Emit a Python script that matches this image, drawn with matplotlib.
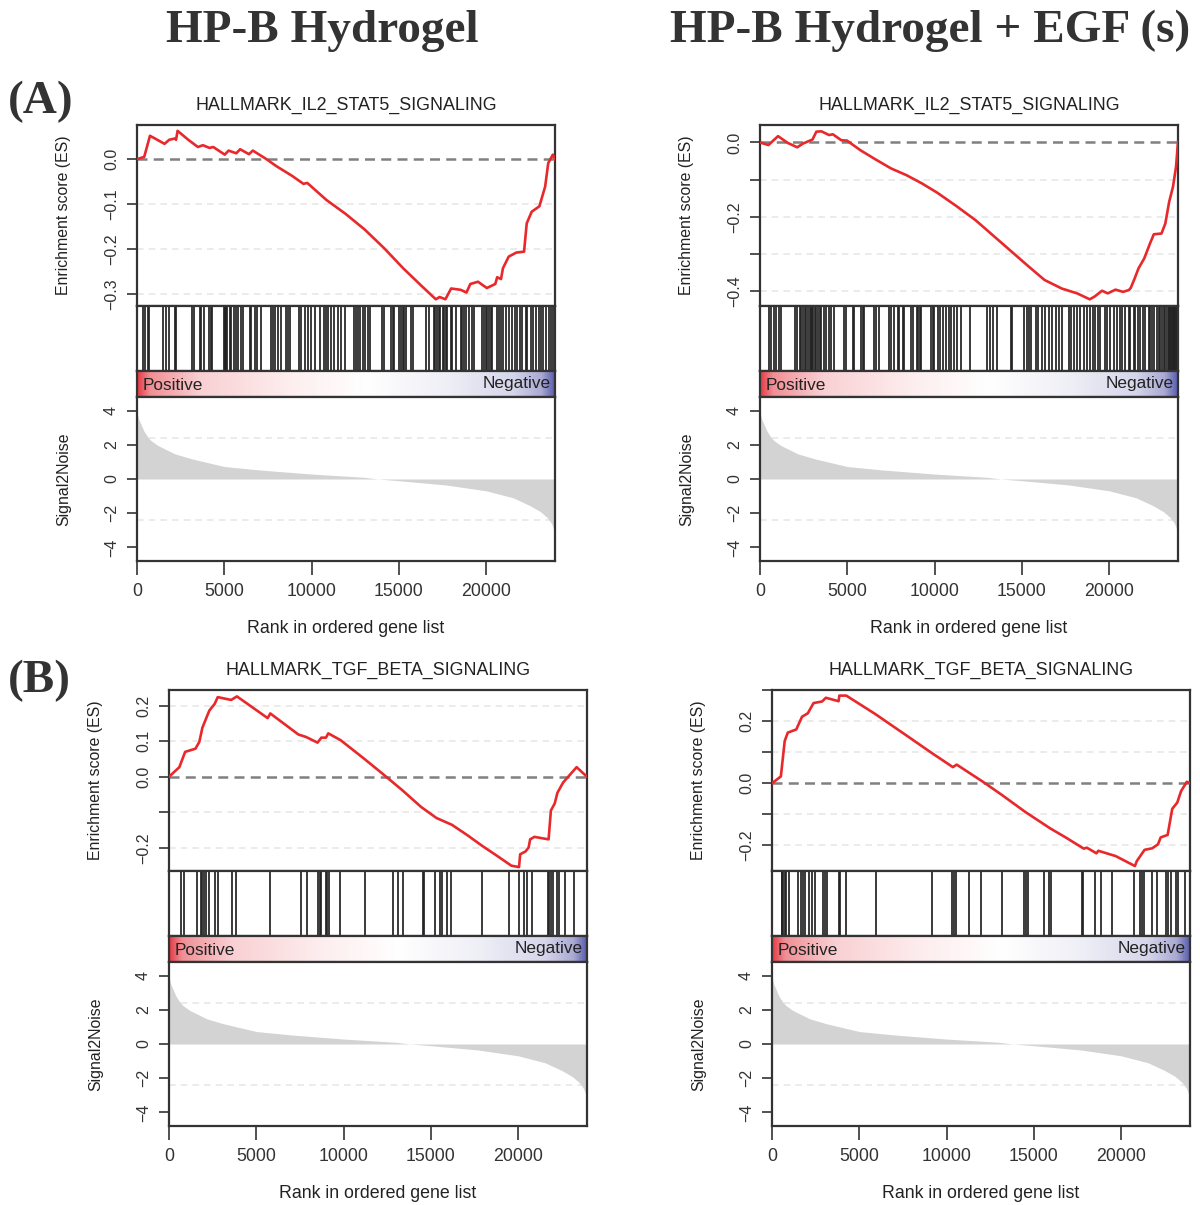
import numpy as np
import matplotlib.pyplot as plt
from matplotlib.colors import LinearSegmentedColormap

plt.rcParams['font.family'] = ['Liberation Sans', 'DejaVu Sans']

W, H = 1200, 1205
N_GENES = 23950

# ranked list metric (Signal2Noise)
S2N_RANK = [0, 50, 100, 230, 400, 620, 800, 1200, 2170, 3140, 5000, 7000, 10000,
            13000, 13800, 15000, 17700, 20000, 21550, 22500, 23100, 23500, 23750, 23880, 23950]
S2N_VALUE = [3.95, 3.7, 3.5, 3.2, 2.8, 2.45, 2.25, 1.96, 1.47, 1.18, 0.73, 0.53, 0.29,
             0.1, 0.0, -0.1, -0.35, -0.69, -1.1, -1.55, -1.9, -2.25, -2.6, -2.95, -3.25]

# (A) left: IL2_STAT5, HP-B Hydrogel
A1_ES_X = [0, 413, 743, 1072, 1578, 1842, 2172, 2237, 2325, 2940, 3490, 3776, 4150, 4370,
           5029, 5249, 5689, 5909, 6415, 6635, 7338, 7998, 8877, 9537, 9757, 10856, 11955,
           13054, 14153, 15252, 16351, 17120, 17340, 17670, 17999, 18549, 18879, 19098,
           19538, 20044, 20527, 20637, 20857, 20967, 21297, 21737, 22177, 22330, 22616,
           23056, 23386, 23562, 23826, 23950]
A1_ES_Y = [0, 0.005, 0.052, 0.045, 0.034, 0.043, 0.046, 0.043, 0.063, 0.043, 0.027, 0.031,
           0.025, 0.027, 0.010, 0.019, 0.013, 0.022, 0.011, 0.019, 0.002, -0.016, -0.037,
           -0.055, -0.053, -0.091, -0.122, -0.157, -0.198, -0.243, -0.284, -0.312, -0.307,
           -0.312, -0.288, -0.291, -0.297, -0.278, -0.273, -0.287, -0.278, -0.263, -0.267,
           -0.243, -0.217, -0.208, -0.206, -0.143, -0.117, -0.105, -0.061, -0.009, 0.010, 0.0]
A1_HITS = [362, 457, 610, 686, 1505, 1638, 1829, 2171, 2248, 3162, 3276, 3600, 3695, 3829,
           4114, 4229, 4305, 4990, 5030, 5067, 5105, 5143, 5314, 5410, 5543, 5695, 5790,
           5943, 6076, 6457, 6552, 6781, 6895, 7124, 7695, 7790, 7886, 8076, 8267, 8552,
           8648, 8743, 9257, 9371, 9600, 9790, 9943, 10171, 10457, 10743, 10838, 10933,
           11124, 11276, 11505, 11695, 11943, 12419, 12552, 12648, 12800, 12933, 13067,
           13219, 13371, 14019, 14133, 14552, 14648, 14743, 15029, 15124, 15219, 15314,
           15410, 15695, 15790, 16552, 16743, 16990, 17067, 17181, 17276, 17371, 17505,
           17600, 17695, 17790, 17981, 18076, 18267, 18552, 18648, 18743, 18838, 19029,
           19219, 19314, 19790, 19886, 19981, 20076, 20171, 20267, 20362, 20648, 20743,
           20838, 20990, 21124, 21314, 21505, 21638, 21790, 21943, 22076, 22267, 22362,
           22552, 22705, 22838, 23029, 23124, 23276, 23410, 23600, 23695, 23850]

# (A) right: IL2_STAT5, HP-B Hydrogel + EGF (s)
A2_ES_X = [0, 483, 1033, 1582, 2131, 2461, 3010, 3230, 3515, 3955, 4174, 4658, 4987, 5756,
           6635, 7514, 8393, 9271, 10150, 11249, 12347, 13446, 14545, 15424, 16303, 17291,
           18170, 18895, 19159, 19598, 19928, 20368, 20807, 21137, 21246, 21466, 21685,
           22015, 22344, 22564, 23004, 23224, 23443, 23663, 23839, 23950]
A2_ES_Y = [0, -0.007, 0.017, -0.001, -0.013, -0.003, 0.008, 0.029, 0.030, 0.020, 0.022,
           0.006, 0.005, -0.021, -0.046, -0.070, -0.088, -0.110, -0.135, -0.171, -0.209,
           -0.254, -0.299, -0.335, -0.370, -0.393, -0.406, -0.422, -0.415, -0.399, -0.406,
           -0.396, -0.402, -0.397, -0.391, -0.366, -0.339, -0.312, -0.272, -0.247, -0.245,
           -0.218, -0.160, -0.119, -0.065, 0.002]
A2_HITS = [495, 648, 800, 933, 1067, 1181, 2019, 2133, 2267, 2362, 2457, 2552, 2648, 2743,
           2838, 2933, 2990, 3048, 3124, 3219, 3314, 3410, 3505, 3695, 3790, 3981, 4076,
           4229, 4800, 4933, 5314, 5410, 5790, 5886, 5981, 6552, 6648, 6838, 7410, 7505,
           7695, 7886, 7981, 8171, 8267, 8648, 8743, 8990, 9067, 9162, 9219, 9790, 9886,
           9981, 10171, 10324, 10457, 10648, 10838, 10933, 11124, 11276, 11505, 12019,
           13029, 13181, 13371, 13600, 14362, 14457, 15124, 15276, 15410, 15505, 15790,
           15924, 16171, 16305, 16552, 16743, 16933, 17124, 17314, 17695, 17828, 17981,
           18171, 18362, 18552, 18743, 18933, 19086, 19219, 19352, 19505, 19790, 19886,
           20076, 20267, 20457, 20610, 20743, 20933, 21124, 21219, 21410, 21505, 21638,
           21790, 21943, 22076, 22267, 22362, 22457, 22590, 22743, 22838, 22933, 23029,
           23124, 23219, 23314, 23410, 23460, 23505, 23550, 23600, 23650, 23695, 23745,
           23790, 23840, 23890]

# (B) left: TGF_BETA, HP-B Hydrogel
B1_ES_X = [0, 594, 924, 1517, 1737, 1913, 2309, 2617, 2793, 3562, 3892, 5651, 5805, 7410,
           7850, 8510, 8730, 8994, 9126, 9830, 11149, 12249, 13348, 14448, 15327, 16207,
           17086, 17966, 18846, 19615, 20055, 20121, 20429, 20605, 20693, 20935, 21749,
           21881, 22101, 22255, 22585, 23355, 23950]
B1_ES_Y = [0, 0.027, 0.070, 0.079, 0.098, 0.138, 0.186, 0.205, 0.224, 0.216, 0.226, 0.165,
           0.178, 0.119, 0.112, 0.096, 0.110, 0.110, 0.122, 0.103, 0.052, 0.008, -0.037,
           -0.085, -0.116, -0.135, -0.164, -0.195, -0.224, -0.250, -0.254, -0.218, -0.210,
           -0.199, -0.176, -0.169, -0.176, -0.095, -0.075, -0.045, -0.016, 0.027, 0.0]
B1_HITS = [686, 876, 1600, 1829, 1886, 1981, 2114, 2305, 2648, 2781, 3600, 3867, 5771,
           7543, 7924, 8552, 8629, 8686, 8971, 9067, 9162, 9771, 11219, 12838, 13105,
           13390, 14533, 14590, 15257, 15543, 15638, 15924, 16171, 17924, 19486, 20057,
           20362, 20495, 20781, 21695, 21771, 21886, 22019, 22210, 22343, 22686, 23219]

# (B) right: TGF_BETA, HP-B Hydrogel + EGF (s)
B2_ES_X = [0, 507, 728, 904, 1389, 1720, 2051, 2381, 2867, 3087, 3815, 3859, 4256, 5909,
           7673, 9217, 10364, 10584, 12083, 13186, 14509, 15942, 16824, 17860, 18037,
           18588, 18699, 19691, 20793, 20904, 21345, 21786, 22117, 22271, 22668, 22933,
           23220, 23440, 23771, 23950]
B2_ES_Y = [0, 0.022, 0.136, 0.163, 0.173, 0.214, 0.225, 0.258, 0.263, 0.275, 0.264, 0.282,
           0.282, 0.223, 0.155, 0.095, 0.052, 0.060, 0.005, -0.038, -0.092, -0.145, -0.174,
           -0.210, -0.207, -0.225, -0.217, -0.234, -0.266, -0.250, -0.214, -0.209, -0.196,
           -0.174, -0.166, -0.082, -0.062, -0.025, 0.005, 0.0]
B2_HITS = [552, 600, 648, 743, 800, 990, 1505, 1638, 1752, 1886, 2133, 2267, 2457, 2933,
           3029, 3162, 3848, 3924, 4267, 5943, 9181, 10324, 10400, 10514, 11276, 11981,
           13181, 14457, 14552, 14648, 15600, 15848, 15981, 17790, 17828, 18514, 18838,
           19505, 20743, 21067, 21181, 21314, 21752, 22076, 22590, 22705, 22838, 23162,
           23276, 23657]

X_TICKS = [0, 5000, 10000, 15000, 20000]
S2N_TICKS = [4, 2, 0, -2, -4]

EDGE = '#333333'
LINE_RED = '#e8282b'

bar_cmap = LinearSegmentedColormap.from_list('posneg', [
    (0.0, '#e53e48'), (0.03, '#f08f95'), (0.15, '#f9d0d3'), (0.35, '#fdeced'),
    (0.55, '#ffffff'), (0.75, '#eeeef6'), (0.9, '#d6d6eb'), (0.97, '#a9a9d3'),
    (1.0, '#5b5fae')])


def px_axes(fig, x0, x1, y0, y1):
    return fig.add_axes([x0 / W, 1 - y1 / H, (x1 - x0) / W, (y1 - y0) / H])


def style_box(ax):
    for s in ax.spines.values():
        s.set_color(EDGE)
        s.set_linewidth(1.6)
    ax.tick_params(colors=EDGE, width=1.2, length=7, direction='out')


def gsea_panel(fig, x0, x1, ytop, title, es_x, es_y, hits, ylim, yticks, ylabels):
    y_es, y_bar, y_cb, y_s2n = ytop + 181, ytop + 246, ytop + 272, ytop + 436
    width = x1 - x0

    # running enrichment score
    ax = px_axes(fig, x0, x1, ytop, y_es)
    style_box(ax)
    for t in yticks:
        if t != 0:
            ax.axhline(t, color='#e8e8e8', lw=1.2, ls=(0, (4, 3)), zorder=1)
    ax.axhline(0, color='#808080', lw=1.8, ls=(0, (4, 2.5)), zorder=2)
    ax.plot(es_x, es_y, color=LINE_RED, lw=1.9, zorder=3)
    ax.set_xlim(0, N_GENES)
    ax.set_ylim(*ylim)
    ax.set_xticks([])
    ax.set_yticks(yticks)
    ax.set_yticklabels(ylabels, rotation=90, va='center', fontsize=11.5)
    ax.tick_params(axis='y', pad=6)
    ax.set_ylabel('Enrichment score (ES)', fontsize=11.4, color='#222222')
    ax.yaxis.set_label_coords(-66 / width, 0.5)
    ax.set_title(title, fontsize=12.9, color='#222222', pad=11)

    # gene set hits
    axb = px_axes(fig, x0, x1, y_es, y_bar)
    style_box(axb)
    axb.vlines(hits, 0, 1, color='#222222', lw=1.25)
    axb.set_xlim(0, N_GENES)
    axb.set_ylim(0, 1)
    axb.set_xticks([])
    axb.set_yticks([])

    # positive / negative colour bar
    axc = px_axes(fig, x0, x1, y_bar, y_cb)
    style_box(axc)
    axc.imshow(np.linspace(0, 1, 512)[None, :], cmap=bar_cmap, aspect='auto',
               extent=[0, N_GENES, 0, 1])
    axc.set_xlim(0, N_GENES)
    axc.set_xticks([])
    axc.set_yticks([])
    axc.text(0.013, 0.45, 'Positive', transform=axc.transAxes, ha='left', va='center',
             fontsize=12.4, color='#222222')
    axc.text(0.99, 0.52, 'Negative', transform=axc.transAxes, ha='right', va='center',
             fontsize=12.4, color='#222222')

    # ranked list metric
    axs = px_axes(fig, x0, x1, y_cb, y_s2n)
    style_box(axs)
    for t in (2.4, -2.4):
        axs.axhline(t, color='#e8e8e8', lw=1.2, ls=(0, (4, 3)), zorder=1)
    axs.fill_between(S2N_RANK, S2N_VALUE, 0, color='#d3d3d3', lw=0, zorder=2)
    axs.set_xlim(0, N_GENES)
    axs.set_ylim(-4.8, 4.8)
    axs.set_yticks(S2N_TICKS)
    axs.set_yticklabels([str(t).replace('-', '\u2212') for t in S2N_TICKS],
                        rotation=90, va='center', fontsize=11.5)
    axs.tick_params(axis='y', pad=6)
    axs.set_xticks(X_TICKS)
    axs.set_xticklabels([str(t) for t in X_TICKS], fontsize=12.8)
    axs.tick_params(axis='x', length=10, pad=6)
    axs.set_ylabel('Signal2Noise', fontsize=11.4, color='#222222')
    axs.yaxis.set_label_coords(-66 / width, 0.5)
    axs.set_xlabel('Rank in ordered gene list', fontsize=12.8, color='#222222')
    axs.xaxis.set_label_coords(0.5, -59 / 164)


fig = plt.figure(figsize=(W / 100, H / 100), dpi=100)

m = '\u2212'
gsea_panel(fig, 137, 555, 125, 'HALLMARK_IL2_STAT5_SIGNALING', A1_ES_X, A1_ES_Y, A1_HITS,
           (-0.327, 0.076), [0.0, -0.1, -0.2, -0.3],
           ['0.0', m + '0.1', m + '0.2', m + '0.3'])
gsea_panel(fig, 760, 1178, 125, 'HALLMARK_IL2_STAT5_SIGNALING', A2_ES_X, A2_ES_Y, A2_HITS,
           (-0.44, 0.047), [0.0, -0.1, -0.2, -0.3, -0.4],
           ['0.0', '', m + '0.2', '', m + '0.4'])
gsea_panel(fig, 169, 587, 690, 'HALLMARK_TGF_BETA_SIGNALING', B1_ES_X, B1_ES_Y, B1_HITS,
           (-0.265, 0.244), [0.2, 0.1, 0.0, -0.1, -0.2],
           ['0.2', '0.1', '0.0', '', m + '0.2'])
gsea_panel(fig, 772, 1190, 690, 'HALLMARK_TGF_BETA_SIGNALING', B2_ES_X, B2_ES_Y, B2_HITS,
           (-0.282, 0.30), [0.3, 0.2, 0.1, 0.0, -0.1, -0.2],
           ['', '0.2', '', '0.0', '', m + '0.2'])

serif = dict(family=['Liberation Serif', 'DejaVu Serif'], weight='bold', size=34,
             color='#333333')
fig.text(322 / W, 1 - 42 / H, 'HP-B Hydrogel', ha='center', va='baseline', **serif)
fig.text(930 / W, 1 - 42 / H, 'HP-B Hydrogel + EGF (s)', ha='center', va='baseline', **serif)
fig.text(8 / W, 1 - 113 / H, '(A)', ha='left', va='baseline', **serif)
fig.text(8 / W, 1 - 692 / H, '(B)', ha='left', va='baseline', **serif)

fig.savefig('out.png', dpi=100)
